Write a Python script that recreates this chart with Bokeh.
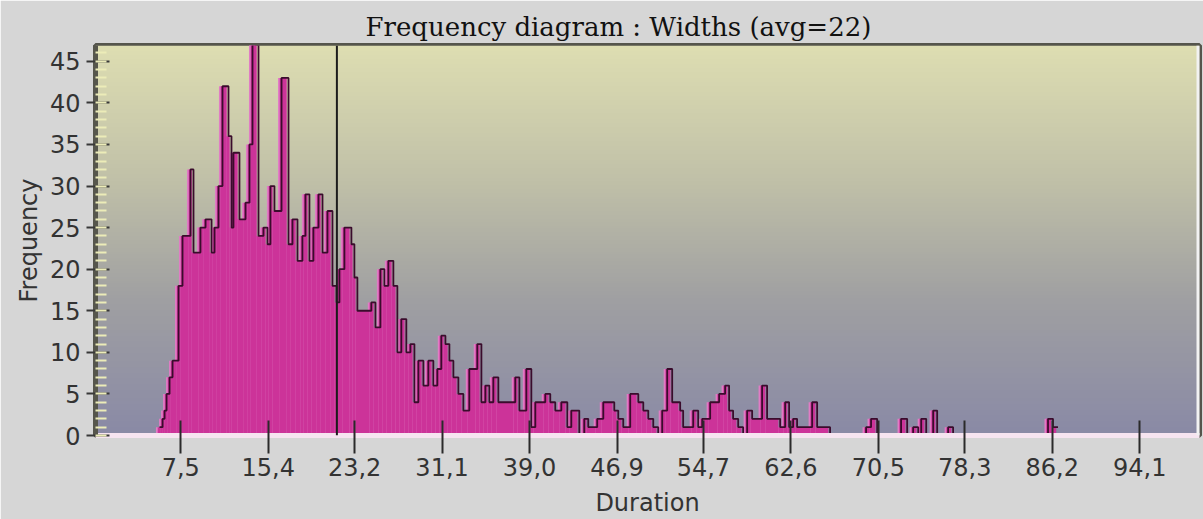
import numpy as np
from bokeh.plotting import figure
from bokeh.models import Range1d, FixedTicker, SingleIntervalTicker, Span
from bokeh.embed import file_html
from bokeh.resources import INLINE

# ---- data ----
bin_edges = [5.42, 5.70, 5.88, 6.06, 6.33, 6.60, 7.14, 7.50, 8.22, 8.49, 9.12, 9.58,
             10.12, 10.39, 10.75, 11.11, 11.65, 11.92, 12.10, 12.64, 13.19, 13.55, 13.82,
             14.36, 14.81, 15.17, 15.44, 15.80, 16.44, 17.07, 17.43, 17.88, 18.33, 18.60,
             18.96, 19.32, 19.78, 20.14, 20.59, 21.04, 21.40, 21.67, 22.12, 22.75, 23.02,
             23.29, 24.55, 24.92, 25.37, 25.73, 26.09, 26.54, 26.90, 27.26, 27.71, 28.08,
             28.44, 28.80, 29.25, 29.70, 30.15, 30.51, 30.87, 31.24, 31.60, 31.96, 32.41,
             32.86, 33.40, 34.12, 34.49, 34.85, 35.21, 35.57, 36.02, 37.55, 37.92, 38.55,
             39.00, 39.36, 40.26, 40.71, 41.16, 41.71, 42.25, 42.61, 43.33, 43.78, 44.14,
             44.95, 45.50, 46.49, 46.85, 47.30, 47.93, 48.66, 49.11, 49.56, 50.01, 50.46,
             50.82, 51.27, 51.72, 52.44, 52.71, 53.62, 54.07, 54.43, 55.15, 55.96, 56.50,
             56.86, 57.22, 57.68, 58.13, 58.49, 58.94, 59.84, 60.29, 61.47, 61.92, 62.28,
             62.64, 63.00, 64.36, 64.81, 65.98, 69.23, 69.68, 70.23, 72.39, 72.94, 73.48,
             73.94, 74.21, 74.66, 75.29, 75.65, 76.64, 77.09, 85.66, 86.11, 86.56]
counts = [1, 2, 3, 5, 7, 9, 18, 24, 32, 22, 25, 26,
          22, 25, 30, 42, 36, 25, 34, 26, 28, 35, 47,
          24, 25, 23, 30, 27, 43, 23, 26, 21, 24, 29,
          21, 25, 29, 22, 27, 18, 16, 20, 25, 23, 19,
          15, 16, 13, 20, 18, 21, 18, 10, 14, 10, 11,
          4, 9, 6, 9, 6, 8, 12, 11, 9, 7, 5,
          3, 8, 11, 4, 6, 4, 7, 4, 7, 3, 8,
          1, 4, 5, 4, 3, 4, 1, 3, 0, 2, 1,
          2, 4, 3, 2, 1, 5, 4, 3, 2, 1, 0,
          3, 8, 4, 3, 1, 3, 1, 2, 4, 5, 6,
          3, 2, 1, 0, 3, 2, 6, 2, 1, 4, 1,
          2, 1, 4, 1, 0, 1, 2, 0, 2, 0, 1,
          0, 2, 0, 3, 0, 1, 0, 2, 1]
avg_width = 21.6
x_tick_values = [7.5, 15.4, 23.2, 31.1, 39.0, 46.9, 54.7, 62.6, 70.5, 78.3, 86.2, 94.1]
x_tick_labels = ["7,5", "15,4", "23,2", "31,1", "39,0", "46,9", "54,7", "62,6",
                 "70,5", "78,3", "86,2", "94,1"]
title_text = "Frequency diagram : Widths (avg=22)"

X0, X1 = -0.2, 99.5
Y0, Y1 = 0.0, 46.9

p = figure(width=1203, height=519, output_backend="svg", toolbar_location=None,
           x_range=Range1d(X0, X1), y_range=Range1d(Y0, Y1),
           min_border_left=95, min_border_right=4, min_border_top=45, min_border_bottom=82)

p.border_fill_color = "#d6d6d6"
p.background_fill_color = "#b8b8aa"
p.outline_line_color = "#55554c"
p.outline_line_width = 5
p.xgrid.visible = False
p.ygrid.visible = False

# title
p.title.text = title_text
p.title.text_font = "DejaVu Serif"
p.title.text_font_size = "26px"
p.title.text_font_style = "normal"
p.title.text_color = "#111111"
p.title.align = "left"
p.title.offset = 270
p.title.standoff = 8

# gradient background of the plot area
stops_t = [0.0, 0.35, 0.65, 1.0]  # 0 = bottom, 1 = top
stops_c = [(138, 138, 166), (160, 160, 162), (192, 192, 168), (222, 222, 178)]
n = 200
t = np.linspace(0, 1, n)
rgb = np.stack([np.interp(t, stops_t, [c[k] for c in stops_c]) for k in range(3)], axis=1).astype(np.uint32)
img = np.empty((n, 1), dtype=np.uint32)
img[:, 0] = (255 << 24) | (rgb[:, 2] << 16) | (rgb[:, 1] << 8) | rgb[:, 0]
p.image_rgba(image=[img], x=X0, y=Y0, dw=X1 - X0, dh=Y1 - Y0)

# histogram bars
left = np.array(bin_edges[:-1])
right = np.array(bin_edges[1:])
top = np.array(counts, dtype=float)
mask = top > 0
shift = 0.16
p.quad(left=left[mask] - shift, right=right[mask] - shift, bottom=0, top=top[mask],
       fill_color="#e07cc4", line_color=None)
p.quad(left=left[mask], right=right[mask], bottom=0, top=top[mask],
       fill_color="#cc3399", line_color=None)

# dark 3D outline
xs, ys = [], []
for l, r, c in zip(left, right, top):
    xs += [l + shift, r + shift]
    ys += [c, c]
p.line(xs, ys, line_color="#3a0c2c", line_width=1.8)

# average line
p.add_layout(Span(location=avg_width, dimension="height", line_color="#1c1c1c", line_width=2))
# right white edge
p.add_layout(Span(location=X1, dimension="height", line_color="#f2f2f2", line_width=6))

FONT = "DejaVu Sans"

# y axis
p.yaxis.ticker = SingleIntervalTicker(interval=5, num_minor_ticks=5)
p.yaxis.axis_line_color = "#56564c"
p.yaxis.axis_line_width = 5
p.yaxis.major_tick_line_color = "#383838"
p.yaxis.major_tick_line_width = 2
p.yaxis.major_tick_in = 14
p.yaxis.major_tick_out = 9
p.yaxis.minor_tick_line_color = "#ececb8"
p.yaxis.minor_tick_line_width = 2
p.yaxis.minor_tick_in = 11
p.yaxis.minor_tick_out = 0
p.yaxis.major_label_text_font = FONT
p.yaxis.major_label_text_font_size = "24px"
p.yaxis.major_label_text_color = "#333333"
p.yaxis.major_label_standoff = 6
p.yaxis.axis_label = "Frequency"
p.yaxis.axis_label_text_font = FONT
p.yaxis.axis_label_text_font_size = "24px"
p.yaxis.axis_label_text_font_style = "normal"
p.yaxis.axis_label_text_color = "#333333"
p.yaxis.axis_label_standoff = 4

# x axis
p.xaxis.ticker = FixedTicker(ticks=x_tick_values, minor_ticks=[])
p.xaxis.major_label_overrides = {v: s for v, s in zip(x_tick_values, x_tick_labels)}
p.xaxis.axis_line_color = "#f6e4f0"
p.xaxis.axis_line_width = 5
p.xaxis.major_tick_line_color = "#2a2a2a"
p.xaxis.major_tick_line_width = 2
p.xaxis.major_tick_in = 15
p.xaxis.major_tick_out = 18
p.xaxis.major_label_text_font = FONT
p.xaxis.major_label_text_font_size = "24px"
p.xaxis.major_label_text_color = "#333333"
p.xaxis.major_label_standoff = 4
p.xaxis.axis_label = "Duration"
p.xaxis.axis_label_text_font = FONT
p.xaxis.axis_label_text_font_size = "24px"
p.xaxis.axis_label_text_font_style = "normal"
p.xaxis.axis_label_text_color = "#333333"
p.xaxis.axis_label_standoff = 10

open("out.html", "w").write(file_html(p, INLINE))
